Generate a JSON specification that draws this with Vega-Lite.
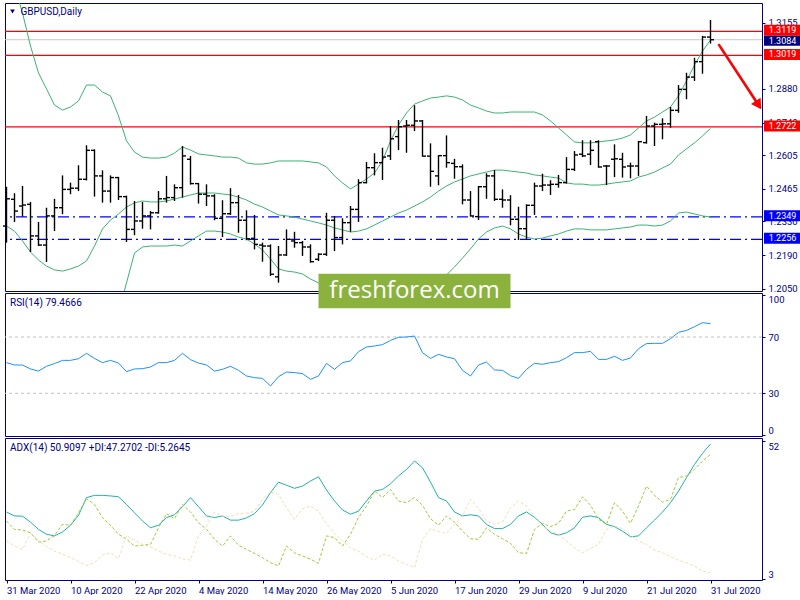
{
"$schema": "https://vega.github.io/schema/vega-lite/v6.json",
"padding": {"left": 2, "top": 2, "right": 0, "bottom": 0},
"background": "white",
"bounds": "flush",
"spacing": 2,
"resolve": {"scale": {"x": "independent", "y": "independent"}},
"config": {
  "view": {"stroke": "#000080", "strokeWidth": 1},
  "axis": {"labelFont": "Roboto", "labelFontSize": 9.5, "labelColor": "#000080", "tickColor": "#000080", "grid": false, "domain": false}
},
"datasets": {
"bars": [
{"d":"2020-03-31","o":1.2311,"h":1.2474,"l":1.2242,"c":1.2424,"bu":1.3431,"bm":1.2311,"bl":1.1191,"rsi":51.8,"adx":26.8,"pdi":23.6,"mdi":16.5},
{"d":"2020-04-01","o":1.2422,"h":1.2447,"l":1.2328,"c":1.2373,"bu":1.3307,"bm":1.2290,"bl":1.1274,"rsi":50.1,"adx":25.4,"pdi":20.6,"mdi":14.7},
{"d":"2020-04-02","o":1.2394,"h":1.2477,"l":1.2350,"c":1.2398,"bu":1.3195,"bm":1.2249,"bl":1.1303,"rsi":50.1,"adx":25.3,"pdi":20.4,"mdi":13.5},
{"d":"2020-04-03","o":1.2401,"h":1.2411,"l":1.2203,"c":1.2270,"bu":1.3058,"bm":1.2203,"bl":1.1348,"rsi":47.3,"adx":23.2,"pdi":19.4,"mdi":19.2},
{"d":"2020-04-06","o":1.2270,"h":1.2328,"l":1.2228,"c":1.2232,"bu":1.2946,"bm":1.2170,"bl":1.1394,"rsi":45.8,"adx":20.6,"pdi":16.1,"mdi":16.8},
{"d":"2020-04-07","o":1.2232,"h":1.2387,"l":1.2162,"c":1.2353,"bu":1.2880,"bm":1.2145,"bl":1.1411,"rsi":49.2,"adx":18.9,"pdi":16.5,"mdi":14.5},
{"d":"2020-04-08","o":1.2353,"h":1.2424,"l":1.2290,"c":1.2387,"bu":1.2813,"bm":1.2129,"bl":1.1444,"rsi":51.1,"adx":18.3,"pdi":18.5,"mdi":12.9},
{"d":"2020-04-09","o":1.2387,"h":1.2521,"l":1.2360,"c":1.2463,"bu":1.2792,"bm":1.2124,"bl":1.1456,"rsi":53.4,"adx":19.7,"pdi":22.4,"mdi":11.8},
{"d":"2020-04-10","o":1.2463,"h":1.2491,"l":1.2443,"c":1.2468,"bu":1.2805,"bm":1.2133,"bl":1.1460,"rsi":53.4,"adx":22.1,"pdi":22.1,"mdi":10.6},
{"d":"2020-04-13","o":1.2468,"h":1.2563,"l":1.2456,"c":1.2505,"bu":1.2830,"bm":1.2145,"bl":1.1460,"rsi":54.6,"adx":25.6,"pdi":26.5,"mdi":9.3},
{"d":"2020-04-14","o":1.2505,"h":1.2646,"l":1.2500,"c":1.2625,"bu":1.2896,"bm":1.2166,"bl":1.1436,"rsi":58.4,"adx":31.9,"pdi":31.5,"mdi":7.8},
{"d":"2020-04-15","o":1.2625,"h":1.2629,"l":1.2433,"c":1.2519,"bu":1.2896,"bm":1.2228,"bl":1.1560,"rsi":54.8,"adx":32.7,"pdi":29.5,"mdi":8.8},
{"d":"2020-04-16","o":1.2519,"h":1.2542,"l":1.2408,"c":1.2456,"bu":1.2867,"bm":1.2299,"bl":1.1730,"rsi":51.8,"adx":32.7,"pdi":24.8,"mdi":11.5},
{"d":"2020-04-17","o":1.2456,"h":1.2521,"l":1.2408,"c":1.2512,"bu":1.2851,"bm":1.2336,"bl":1.1821,"rsi":53.4,"adx":32.5,"pdi":22.1,"mdi":12.3},
{"d":"2020-04-20","o":1.2512,"h":1.2515,"l":1.2419,"c":1.2433,"bu":1.2768,"bm":1.2361,"bl":1.1954,"rsi":51.5,"adx":32.2,"pdi":18.9,"mdi":10.2},
{"d":"2020-04-21","o":1.2433,"h":1.2437,"l":1.2245,"c":1.2297,"bu":1.2664,"bm":1.2390,"bl":1.2075,"rsi":45.4,"adx":29.5,"pdi":17.1,"mdi":18.5},
{"d":"2020-04-22","o":1.2297,"h":1.2415,"l":1.2273,"c":1.2332,"bu":1.2618,"bm":1.2407,"bl":1.2199,"rsi":47.3,"adx":26.5,"pdi":14.7,"mdi":16.8},
{"d":"2020-04-23","o":1.2332,"h":1.2411,"l":1.2300,"c":1.2353,"bu":1.2597,"bm":1.2415,"bl":1.2224,"rsi":47.5,"adx":23.6,"pdi":15.0,"mdi":15.3},
{"d":"2020-04-24","o":1.2353,"h":1.2373,"l":1.2297,"c":1.2366,"bu":1.2593,"bm":1.2411,"bl":1.2228,"rsi":48.7,"adx":21.2,"pdi":15.3,"mdi":14.5},
{"d":"2020-04-27","o":1.2366,"h":1.2456,"l":1.2362,"c":1.2424,"bu":1.2593,"bm":1.2411,"bl":1.2228,"rsi":51.8,"adx":22.1,"pdi":21.2,"mdi":12.9},
{"d":"2020-04-28","o":1.2424,"h":1.2519,"l":1.2408,"c":1.2429,"bu":1.2597,"bm":1.2415,"bl":1.2228,"rsi":51.8,"adx":24.8,"pdi":26.2,"mdi":11.8},
{"d":"2020-04-29","o":1.2429,"h":1.2484,"l":1.2415,"c":1.2470,"bu":1.2614,"bm":1.2423,"bl":1.2232,"rsi":53.4,"adx":25.8,"pdi":24.4,"mdi":11.2},
{"d":"2020-04-30","o":1.2470,"h":1.2643,"l":1.2429,"c":1.2602,"bu":1.2639,"bm":1.2431,"bl":1.2228,"rsi":58.4,"adx":28.7,"pdi":29.5,"mdi":10.2},
{"d":"2020-05-01","o":1.2588,"h":1.2602,"l":1.2483,"c":1.2487,"bu":1.2626,"bm":1.2440,"bl":1.2249,"rsi":53.9,"adx":31.9,"pdi":26.8,"mdi":9.7},
{"d":"2020-05-04","o":1.2487,"h":1.2490,"l":1.2404,"c":1.2443,"bu":1.2610,"bm":1.2448,"bl":1.2270,"rsi":51.5,"adx":28.7,"pdi":23.0,"mdi":18.3},
{"d":"2020-05-05","o":1.2443,"h":1.2484,"l":1.2394,"c":1.2436,"bu":1.2606,"bm":1.2448,"bl":1.2290,"rsi":50.1,"adx":25.4,"pdi":20.6,"mdi":21.8},
{"d":"2020-05-06","o":1.2436,"h":1.2443,"l":1.2335,"c":1.2343,"bu":1.2602,"bm":1.2448,"bl":1.2290,"rsi":45.8,"adx":24.8,"pdi":17.1,"mdi":26.8},
{"d":"2020-05-07","o":1.2343,"h":1.2418,"l":1.2265,"c":1.2362,"bu":1.2597,"bm":1.2444,"bl":1.2286,"rsi":47.0,"adx":25.4,"pdi":14.7,"mdi":25.4},
{"d":"2020-05-08","o":1.2362,"h":1.2468,"l":1.2357,"c":1.2408,"bu":1.2597,"bm":1.2440,"bl":1.2278,"rsi":49.2,"adx":23.9,"pdi":18.3,"mdi":25.1},
{"d":"2020-05-11","o":1.2408,"h":1.2440,"l":1.2283,"c":1.2335,"bu":1.2593,"bm":1.2431,"bl":1.2265,"rsi":46.3,"adx":23.9,"pdi":15.0,"mdi":26.3},
{"d":"2020-05-12","o":1.2335,"h":1.2376,"l":1.2252,"c":1.2258,"bu":1.2573,"bm":1.2419,"bl":1.2257,"rsi":42.3,"adx":24.7,"pdi":13.5,"mdi":26.3},
{"d":"2020-05-13","o":1.2260,"h":1.2357,"l":1.2214,"c":1.2235,"bu":1.2568,"bm":1.2402,"bl":1.2236,"rsi":41.1,"adx":26.2,"pdi":12.1,"mdi":27.1},
{"d":"2020-05-14","o":1.2232,"h":1.2242,"l":1.2163,"c":1.2228,"bu":1.2568,"bm":1.2390,"bl":1.2212,"rsi":40.6,"adx":29.3,"pdi":10.6,"mdi":31.3},
{"d":"2020-05-15","o":1.2228,"h":1.2235,"l":1.2104,"c":1.2111,"bu":1.2573,"bm":1.2373,"bl":1.2174,"rsi":35.2,"adx":33.7,"pdi":8.8,"mdi":33.9},
{"d":"2020-05-18","o":1.2100,"h":1.2228,"l":1.2076,"c":1.2191,"bu":1.2581,"bm":1.2357,"bl":1.2133,"rsi":41.8,"adx":37.4,"pdi":7.6,"mdi":33.1},
{"d":"2020-05-19","o":1.2191,"h":1.2297,"l":1.2187,"c":1.2256,"bu":1.2581,"bm":1.2353,"bl":1.2124,"rsi":45.1,"adx":36.3,"pdi":14.7,"mdi":28.3},
{"d":"2020-05-20","o":1.2249,"h":1.2287,"l":1.2221,"c":1.2242,"bu":1.2581,"bm":1.2348,"bl":1.2120,"rsi":44.7,"adx":35.2,"pdi":12.3,"mdi":24.2},
{"d":"2020-05-21","o":1.2242,"h":1.2249,"l":1.2187,"c":1.2224,"bu":1.2581,"bm":1.2340,"bl":1.2112,"rsi":44.0,"adx":36.0,"pdi":11.2,"mdi":28.0},
{"d":"2020-05-22","o":1.2224,"h":1.2235,"l":1.2159,"c":1.2163,"bu":1.2577,"bm":1.2332,"bl":1.2091,"rsi":39.9,"adx":37.8,"pdi":10.0,"mdi":28.9},
{"d":"2020-05-25","o":1.2173,"h":1.2198,"l":1.2166,"c":1.2194,"bu":1.2573,"bm":1.2324,"bl":1.2075,"rsi":42.3,"adx":39.3,"pdi":8.6,"mdi":27.1},
{"d":"2020-05-26","o":1.2194,"h":1.2366,"l":1.2187,"c":1.2335,"bu":1.2556,"bm":1.2315,"bl":1.2075,"rsi":51.3,"adx":34.6,"pdi":18.3,"mdi":22.6},
{"d":"2020-05-27","o":1.2335,"h":1.2353,"l":1.2207,"c":1.2263,"bu":1.2519,"bm":1.2303,"bl":1.2087,"rsi":47.0,"adx":30.7,"pdi":17.7,"mdi":19.2},
{"d":"2020-05-28","o":1.2263,"h":1.2343,"l":1.2235,"c":1.2325,"bu":1.2490,"bm":1.2295,"bl":1.2100,"rsi":51.8,"adx":27.5,"pdi":14.7,"mdi":16.5},
{"d":"2020-05-29","o":1.2325,"h":1.2394,"l":1.2287,"c":1.2380,"bu":1.2465,"bm":1.2286,"bl":1.2108,"rsi":53.0,"adx":26.0,"pdi":18.9,"mdi":14.1},
{"d":"2020-06-01","o":1.2380,"h":1.2505,"l":1.2328,"c":1.2491,"bu":1.2485,"bm":1.2290,"bl":1.2095,"rsi":59.6,"adx":27.1,"pdi":24.8,"mdi":12.9},
{"d":"2020-06-02","o":1.2491,"h":1.2577,"l":1.2488,"c":1.2553,"bu":1.2506,"bm":1.2299,"bl":1.2091,"rsi":62.9,"adx":30.7,"pdi":28.9,"mdi":10.9},
{"d":"2020-06-03","o":1.2553,"h":1.2613,"l":1.2521,"c":1.2574,"bu":1.2531,"bm":1.2315,"bl":1.2100,"rsi":63.6,"adx":34.2,"pdi":34.2,"mdi":9.7},
{"d":"2020-06-04","o":1.2574,"h":1.2636,"l":1.2502,"c":1.2597,"bu":1.2581,"bm":1.2332,"bl":1.2083,"rsi":64.6,"adx":34.8,"pdi":31.9,"mdi":11.8},
{"d":"2020-06-05","o":1.2602,"h":1.2726,"l":1.2585,"c":1.2673,"bu":1.2664,"bm":1.2348,"bl":1.2033,"rsi":67.6,"adx":36.8,"pdi":34.8,"mdi":11.2},
{"d":"2020-06-08","o":1.2682,"h":1.2751,"l":1.2626,"c":1.2723,"bu":1.2730,"bm":1.2365,"bl":1.2000,"rsi":69.8,"adx":39.6,"pdi":30.7,"mdi":9.4},
{"d":"2020-06-09","o":1.2726,"h":1.2751,"l":1.2615,"c":1.2729,"bu":1.2780,"bm":1.2377,"bl":1.1975,"rsi":70.0,"adx":41.9,"pdi":30.1,"mdi":8.2},
{"d":"2020-06-10","o":1.2729,"h":1.2812,"l":1.2705,"c":1.2747,"bu":1.2817,"bm":1.2394,"bl":1.1971,"rsi":70.7,"adx":44.9,"pdi":31.9,"mdi":7.0},
{"d":"2020-06-11","o":1.2747,"h":1.2751,"l":1.2599,"c":1.2601,"bu":1.2830,"bm":1.2411,"bl":1.1992,"rsi":58.9,"adx":42.5,"pdi":29.2,"mdi":17.1},
{"d":"2020-06-12","o":1.2601,"h":1.2654,"l":1.2474,"c":1.2538,"bu":1.2842,"bm":1.2431,"bl":1.2021,"rsi":54.8,"adx":37.4,"pdi":24.4,"mdi":20.9},
{"d":"2020-06-15","o":1.2519,"h":1.2605,"l":1.2480,"c":1.2603,"bu":1.2846,"bm":1.2456,"bl":1.2066,"rsi":57.7,"adx":31.9,"pdi":22.1,"mdi":19.8},
{"d":"2020-06-16","o":1.2603,"h":1.2687,"l":1.2553,"c":1.2574,"bu":1.2851,"bm":1.2477,"bl":1.2108,"rsi":55.8,"adx":30.7,"pdi":25.4,"mdi":19.2},
{"d":"2020-06-17","o":1.2571,"h":1.2590,"l":1.2507,"c":1.2557,"bu":1.2846,"bm":1.2494,"bl":1.2141,"rsi":54.6,"adx":26.8,"pdi":23.2,"mdi":22.4},
{"d":"2020-06-18","o":1.2557,"h":1.2567,"l":1.2401,"c":1.2419,"bu":1.2834,"bm":1.2506,"bl":1.2178,"rsi":46.3,"adx":25.4,"pdi":20.0,"mdi":25.4},
{"d":"2020-06-19","o":1.2419,"h":1.2456,"l":1.2350,"c":1.2353,"bu":1.2813,"bm":1.2519,"bl":1.2216,"rsi":42.3,"adx":25.8,"pdi":17.3,"mdi":31.3},
{"d":"2020-06-22","o":1.2350,"h":1.2477,"l":1.2336,"c":1.2474,"bu":1.2801,"bm":1.2527,"bl":1.2257,"rsi":50.1,"adx":25.4,"pdi":17.1,"mdi":28.0},
{"d":"2020-06-23","o":1.2474,"h":1.2530,"l":1.2424,"c":1.2519,"bu":1.2788,"bm":1.2535,"bl":1.2286,"rsi":52.2,"adx":22.4,"pdi":21.2,"mdi":23.6},
{"d":"2020-06-24","o":1.2519,"h":1.2543,"l":1.2415,"c":1.2422,"bu":1.2780,"bm":1.2543,"bl":1.2303,"rsi":46.6,"adx":20.9,"pdi":18.9,"mdi":22.4},
{"d":"2020-06-25","o":1.2422,"h":1.2463,"l":1.2387,"c":1.2419,"bu":1.2780,"bm":1.2543,"bl":1.2311,"rsi":46.3,"adx":20.9,"pdi":17.3,"mdi":23.2},
{"d":"2020-06-26","o":1.2419,"h":1.2439,"l":1.2314,"c":1.2339,"bu":1.2784,"bm":1.2539,"bl":1.2299,"rsi":42.5,"adx":22.4,"pdi":15.7,"mdi":28.3},
{"d":"2020-06-29","o":1.2339,"h":1.2391,"l":1.2253,"c":1.2300,"bu":1.2784,"bm":1.2535,"bl":1.2278,"rsi":40.6,"adx":25.4,"pdi":12.3,"mdi":30.7},
{"d":"2020-06-30","o":1.2300,"h":1.2401,"l":1.2256,"c":1.2397,"bu":1.2784,"bm":1.2531,"bl":1.2265,"rsi":47.0,"adx":26.8,"pdi":12.1,"mdi":28.9},
{"d":"2020-07-01","o":1.2397,"h":1.2491,"l":1.2357,"c":1.2477,"bu":1.2784,"bm":1.2523,"bl":1.2257,"rsi":51.3,"adx":24.9,"pdi":20.6,"mdi":25.4},
{"d":"2020-07-02","o":1.2477,"h":1.2528,"l":1.2456,"c":1.2481,"bu":1.2772,"bm":1.2519,"bl":1.2261,"rsi":50.6,"adx":22.4,"pdi":22.8,"mdi":21.8},
{"d":"2020-07-03","o":1.2481,"h":1.2501,"l":1.2440,"c":1.2484,"bu":1.2747,"bm":1.2514,"bl":1.2270,"rsi":51.8,"adx":19.4,"pdi":21.6,"mdi":20.0},
{"d":"2020-07-06","o":1.2484,"h":1.2523,"l":1.2470,"c":1.2491,"bu":1.2718,"bm":1.2510,"bl":1.2278,"rsi":52.5,"adx":18.6,"pdi":22.8,"mdi":18.9},
{"d":"2020-07-07","o":1.2491,"h":1.2597,"l":1.2487,"c":1.2546,"bu":1.2689,"bm":1.2490,"bl":1.2290,"rsi":55.3,"adx":19.4,"pdi":27.1,"mdi":16.5},
{"d":"2020-07-08","o":1.2546,"h":1.2622,"l":1.2539,"c":1.2606,"bu":1.2660,"bm":1.2485,"bl":1.2299,"rsi":58.9,"adx":21.2,"pdi":27.7,"mdi":14.1},
{"d":"2020-07-09","o":1.2609,"h":1.2667,"l":1.2597,"c":1.2602,"bu":1.2656,"bm":1.2485,"bl":1.2299,"rsi":58.9,"adx":24.9,"pdi":32.2,"mdi":12.3},
{"d":"2020-07-10","o":1.2609,"h":1.2667,"l":1.2564,"c":1.2625,"bu":1.2656,"bm":1.2481,"bl":1.2295,"rsi":59.8,"adx":25.4,"pdi":29.2,"mdi":13.8},
{"d":"2020-07-13","o":1.2661,"h":1.2667,"l":1.2553,"c":1.2556,"bu":1.2660,"bm":1.2481,"bl":1.2295,"rsi":54.1,"adx":24.8,"pdi":24.2,"mdi":15.3},
{"d":"2020-07-14","o":1.2560,"h":1.2564,"l":1.2481,"c":1.2560,"bu":1.2664,"bm":1.2485,"bl":1.2295,"rsi":54.1,"adx":22.4,"pdi":22.4,"mdi":20.6},
{"d":"2020-07-15","o":1.2588,"h":1.2650,"l":1.2514,"c":1.2590,"bu":1.2668,"bm":1.2490,"bl":1.2299,"rsi":56.3,"adx":21.6,"pdi":30.1,"mdi":21.8},
{"d":"2020-07-16","o":1.2588,"h":1.2615,"l":1.2512,"c":1.2556,"bu":1.2676,"bm":1.2494,"bl":1.2303,"rsi":53.4,"adx":20.0,"pdi":27.1,"mdi":20.9},
{"d":"2020-07-17","o":1.2560,"h":1.2574,"l":1.2509,"c":1.2560,"bu":1.2689,"bm":1.2498,"bl":1.2307,"rsi":55.1,"adx":18.0,"pdi":22.8,"mdi":18.5},
{"d":"2020-07-20","o":1.2560,"h":1.2664,"l":1.2519,"c":1.2661,"bu":1.2718,"bm":1.2514,"bl":1.2315,"rsi":61.7,"adx":18.3,"pdi":28.9,"mdi":16.5},
{"d":"2020-07-21","o":1.2657,"h":1.2768,"l":1.2653,"c":1.2726,"bu":1.2747,"bm":1.2523,"bl":1.2315,"rsi":65.3,"adx":21.2,"pdi":36.0,"mdi":15.3},
{"d":"2020-07-22","o":1.2726,"h":1.2740,"l":1.2643,"c":1.2733,"bu":1.2763,"bm":1.2535,"bl":1.2311,"rsi":65.5,"adx":23.9,"pdi":32.7,"mdi":13.3},
{"d":"2020-07-23","o":1.2733,"h":1.2758,"l":1.2671,"c":1.2735,"bu":1.2784,"bm":1.2552,"bl":1.2315,"rsi":65.5,"adx":26.8,"pdi":30.3,"mdi":12.3},
{"d":"2020-07-24","o":1.2735,"h":1.2805,"l":1.2719,"c":1.2791,"bu":1.2805,"bm":1.2568,"bl":1.2332,"rsi":68.8,"adx":30.1,"pdi":31.3,"mdi":10.9},
{"d":"2020-07-27","o":1.2791,"h":1.2896,"l":1.2781,"c":1.2878,"bu":1.2851,"bm":1.2606,"bl":1.2365,"rsi":73.3,"adx":34.2,"pdi":39.0,"mdi":9.7},
{"d":"2020-07-28","o":1.2878,"h":1.2947,"l":1.2837,"c":1.2929,"bu":1.2913,"bm":1.2631,"bl":1.2369,"rsi":74.7,"adx":39.0,"pdi":39.6,"mdi":8.8},
{"d":"2020-07-29","o":1.2929,"h":1.3009,"l":1.2913,"c":1.2993,"bu":1.2979,"bm":1.2656,"bl":1.2361,"rsi":77.3,"adx":43.7,"pdi":41.9,"mdi":7.6},
{"d":"2020-07-30","o":1.2993,"h":1.3100,"l":1.2943,"c":1.3095,"bu":1.3037,"bm":1.2685,"bl":1.2353,"rsi":80.2,"adx":47.6,"pdi":44.9,"mdi":5.8},
{"d":"2020-07-31","o":1.3095,"h":1.3166,"l":1.3068,"c":1.3084,"bu":1.3083,"bm":1.2716,"bl":1.2348,"rsi":79.4666,"adx":50.9097,"pdi":47.2702,"mdi":5.2645}
],
"levels": [
{"p":1.3119,"k":"res"},{"p":1.3084,"k":"bid"},{"p":1.3019,"k":"res"},{"p":1.2722,"k":"res"},{"p":1.2349,"k":"sup"},{"p":1.2256,"k":"sup"}
],
"arrow": [{"d":"2020-08-03","p":1.3066},{"d":"2020-08-10","p":1.2813}],
"rsiLevels": [{"v":70},{"v":30}],
"mark": [{"name":"freshforex.com"}]
},
"vconcat": [
{
 "width": 757, "height": 288,
 "layer": [
  {"data": {"name": "levels"}, "transform": [{"filter": "datum.k == 'bid'"}],
   "mark": {"type": "rule", "color": "#c8c8c8", "strokeWidth": 1},
   "encoding": {"y": {"field": "p", "type": "quantitative", "title": null,
     "scale": {"domain": [1.20414, 1.32364], "zero": false, "nice": false},
     "axis": {"orient": "right", "title": null, "values": [1.205, 1.219, 1.233, 1.2465, 1.2605, 1.274, 1.288, 1.3155], "format": ".4f", "tickSize": 3, "labelPadding": 3}}}},
  {"data": {"name": "levels"}, "transform": [{"filter": "datum.k == 'res'"}],
   "mark": {"type": "rule", "color": "#ff0000", "strokeWidth": 1.2},
   "encoding": {"y": {"field": "p", "type": "quantitative", "title": null}}},
  {"data": {"name": "levels"}, "transform": [{"filter": "datum.k == 'sup'"}],
   "mark": {"type": "rule", "color": "#0000ff", "strokeWidth": 1.2, "strokeDash": [11, 4, 2, 4]},
   "encoding": {"y": {"field": "p", "type": "quantitative", "title": null}}},
  {"data": {"name": "bars"},
   "mark": {"type": "line", "color": "#3cb371", "strokeWidth": 1, "clip": true},
   "encoding": {
     "x": {"field": "d", "type": "ordinal", "axis": null,
       "scale": {"type": "point", "padding": 0.3125, "align": 0.3, "domain": ["2020-03-31","2020-04-01","2020-04-02","2020-04-03","2020-04-06","2020-04-07","2020-04-08","2020-04-09","2020-04-10","2020-04-13","2020-04-14","2020-04-15","2020-04-16","2020-04-17","2020-04-20","2020-04-21","2020-04-22","2020-04-23","2020-04-24","2020-04-27","2020-04-28","2020-04-29","2020-04-30","2020-05-01","2020-05-04","2020-05-05","2020-05-06","2020-05-07","2020-05-08","2020-05-11","2020-05-12","2020-05-13","2020-05-14","2020-05-15","2020-05-18","2020-05-19","2020-05-20","2020-05-21","2020-05-22","2020-05-25","2020-05-26","2020-05-27","2020-05-28","2020-05-29","2020-06-01","2020-06-02","2020-06-03","2020-06-04","2020-06-05","2020-06-08","2020-06-09","2020-06-10","2020-06-11","2020-06-12","2020-06-15","2020-06-16","2020-06-17","2020-06-18","2020-06-19","2020-06-22","2020-06-23","2020-06-24","2020-06-25","2020-06-26","2020-06-29","2020-06-30","2020-07-01","2020-07-02","2020-07-03","2020-07-06","2020-07-07","2020-07-08","2020-07-09","2020-07-10","2020-07-13","2020-07-14","2020-07-15","2020-07-16","2020-07-17","2020-07-20","2020-07-21","2020-07-22","2020-07-23","2020-07-24","2020-07-27","2020-07-28","2020-07-29","2020-07-30","2020-07-31","2020-08-03","2020-08-04","2020-08-05","2020-08-06","2020-08-07","2020-08-10"]}},
     "y": {"field": "bu", "type": "quantitative", "title": null},
     "order": {"value": null}}},
  {"data": {"name": "bars"},
   "mark": {"type": "line", "color": "#3cb371", "strokeWidth": 1, "clip": true},
   "encoding": {"x": {"field": "d", "type": "ordinal", "axis": null}, "y": {"field": "bm", "type": "quantitative", "title": null}, "order": {"value": null}}},
  {"data": {"name": "bars"},
   "mark": {"type": "line", "color": "#3cb371", "strokeWidth": 1, "clip": true},
   "encoding": {"x": {"field": "d", "type": "ordinal", "axis": null}, "y": {"field": "bl", "type": "quantitative", "title": null}, "order": {"value": null}}},
  {"data": {"name": "bars"},
   "mark": {"type": "rule", "color": "#000000", "strokeWidth": 1.4},
   "encoding": {"x": {"field": "d", "type": "ordinal", "axis": null}, "y": {"field": "l", "type": "quantitative", "title": null}, "y2": {"field": "h"}}},
  {"data": {"name": "bars"},
   "mark": {"type": "tick", "color": "#000000", "size": 3.5, "thickness": 1.4, "xOffset": -1.75, "opacity": 1},
   "encoding": {"x": {"field": "d", "type": "ordinal", "axis": null}, "y": {"field": "o", "type": "quantitative", "title": null}}},
  {"data": {"name": "bars"},
   "mark": {"type": "tick", "color": "#000000", "size": 3.5, "thickness": 1.4, "xOffset": 1.75, "opacity": 1},
   "encoding": {"x": {"field": "d", "type": "ordinal", "axis": null}, "y": {"field": "c", "type": "quantitative", "title": null}}},
  {"data": {"name": "arrow"},
   "mark": {"type": "line", "color": "#808080", "opacity": 0.35, "strokeWidth": 3, "xOffset": 2, "yOffset": 3},
   "encoding": {"x": {"field": "d", "type": "ordinal", "axis": null}, "y": {"field": "p", "type": "quantitative", "title": null}}},
  {"data": {"name": "arrow"},
   "mark": {"type": "line", "color": "#ff0000", "strokeWidth": 2.5},
   "encoding": {"x": {"field": "d", "type": "ordinal", "axis": null}, "y": {"field": "p", "type": "quantitative", "title": null}}},
  {"data": {"name": "arrow"}, "transform": [{"filter": "datum.d == '2020-08-10'"}],
   "mark": {"type": "point", "shape": "triangle-down", "angle": 326.7, "size": 130, "filled": true, "color": "#ff0000", "opacity": 1},
   "encoding": {"x": {"field": "d", "type": "ordinal", "axis": null}, "y": {"field": "p", "type": "quantitative", "title": null}}},
  {"data": {"name": "levels"}, "transform": [{"filter": "datum.k != 'bid'"}],
   "mark": {"type": "rect", "xOffset": 2, "x2Offset": 38.5, "yOffset": -6.5, "y2Offset": 4.5},
   "encoding": {"x": {"value": "width"}, "x2": {"value": "width"},
     "y": {"field": "p", "type": "quantitative", "title": null}, "y2": {"field": "p"},
     "color": {"field": "k", "type": "nominal", "legend": null, "scale": {"domain": ["res", "bid", "sup"], "range": ["#ff0000", "#000080", "#0000ff"]}}}},
  {"data": {"name": "levels"}, "transform": [{"filter": "datum.k == 'bid'"}],
   "mark": {"type": "rect", "color": "#000080", "xOffset": 2, "x2Offset": 38.5, "yOffset": -4, "y2Offset": 6},
   "encoding": {"x": {"value": "width"}, "x2": {"value": "width"},
     "y": {"field": "p", "type": "quantitative", "title": null}, "y2": {"field": "p"}}},
  {"data": {"name": "levels"}, "transform": [{"filter": "datum.k != 'bid'"}],
   "mark": {"type": "text", "xOffset": 20.5, "yOffset": -1, "align": "center", "baseline": "middle", "color": "#ffffff", "font": "Roboto", "fontSize": 9},
   "encoding": {"x": {"value": "width"}, "y": {"field": "p", "type": "quantitative", "title": null},
     "text": {"field": "p", "type": "quantitative", "format": ".4f"}}},
  {"data": {"name": "levels"}, "transform": [{"filter": "datum.k == 'bid'"}],
   "mark": {"type": "text", "xOffset": 20.5, "yOffset": 1.5, "align": "center", "baseline": "middle", "color": "#ffffff", "font": "Roboto", "fontSize": 9},
   "encoding": {"x": {"value": "width"}, "y": {"field": "p", "type": "quantitative", "title": null},
     "text": {"field": "p", "type": "quantitative", "format": ".4f"}}},
  {"data": {"values": [{}]},
   "mark": {"type": "text", "align": "left", "baseline": "middle", "dx": 14, "font": "Roboto", "fontSize": 10, "color": "#000080", "text": "GBPUSD,Daily"},
   "encoding": {"x": {"datum": "2020-03-31", "type": "ordinal", "axis": null}, "y": {"datum": 1.3199, "type": "quantitative", "title": null}}},
  {"data": {"values": [{}]},
   "mark": {"type": "point", "shape": "triangle-down", "size": 22, "filled": true, "color": "#000080", "opacity": 1, "xOffset": 6},
   "encoding": {"x": {"datum": "2020-03-31", "type": "ordinal", "axis": null}, "y": {"datum": 1.3201, "type": "quantitative", "title": null}}}
 ]
},
{
 "width": 757, "height": 143,
 "layer": [
  {"data": {"name": "rsiLevels"},
   "mark": {"type": "rule", "color": "#c0c0c0", "strokeWidth": 1, "strokeDash": [3, 3]},
   "encoding": {"y": {"field": "v", "type": "quantitative", "title": null,
     "scale": {"domain": [-0.36, 101.28], "zero": false, "nice": false},
     "axis": {"orient": "right", "title": null, "values": [0, 30, 70, 100], "labelFlush": 3, "tickSize": 3, "labelPadding": 3}}}},
  {"data": {"name": "bars"},
   "mark": {"type": "line", "color": "#1e90ff", "strokeWidth": 1},
   "encoding": {
     "x": {"field": "d", "type": "ordinal", "axis": null,
       "scale": {"type": "point", "padding": 0.3125, "align": 0.3, "domain": ["2020-03-31","2020-04-01","2020-04-02","2020-04-03","2020-04-06","2020-04-07","2020-04-08","2020-04-09","2020-04-10","2020-04-13","2020-04-14","2020-04-15","2020-04-16","2020-04-17","2020-04-20","2020-04-21","2020-04-22","2020-04-23","2020-04-24","2020-04-27","2020-04-28","2020-04-29","2020-04-30","2020-05-01","2020-05-04","2020-05-05","2020-05-06","2020-05-07","2020-05-08","2020-05-11","2020-05-12","2020-05-13","2020-05-14","2020-05-15","2020-05-18","2020-05-19","2020-05-20","2020-05-21","2020-05-22","2020-05-25","2020-05-26","2020-05-27","2020-05-28","2020-05-29","2020-06-01","2020-06-02","2020-06-03","2020-06-04","2020-06-05","2020-06-08","2020-06-09","2020-06-10","2020-06-11","2020-06-12","2020-06-15","2020-06-16","2020-06-17","2020-06-18","2020-06-19","2020-06-22","2020-06-23","2020-06-24","2020-06-25","2020-06-26","2020-06-29","2020-06-30","2020-07-01","2020-07-02","2020-07-03","2020-07-06","2020-07-07","2020-07-08","2020-07-09","2020-07-10","2020-07-13","2020-07-14","2020-07-15","2020-07-16","2020-07-17","2020-07-20","2020-07-21","2020-07-22","2020-07-23","2020-07-24","2020-07-27","2020-07-28","2020-07-29","2020-07-30","2020-07-31","2020-08-03","2020-08-04","2020-08-05","2020-08-06","2020-08-07","2020-08-10"]}},
     "y": {"field": "rsi", "type": "quantitative", "title": null},
     "order": {"value": null}}},
  {"data": {"values": [{}]},
   "mark": {"type": "text", "align": "left", "baseline": "middle", "dx": 3.5, "font": "Roboto", "fontSize": 10, "color": "#000080", "text": "RSI(14) 79.4666"},
   "encoding": {"x": {"datum": "2020-03-31", "type": "ordinal", "axis": null}, "y": {"datum": 94.2, "type": "quantitative", "title": null}}},
  {"data": {"values": [{"d": "2020-05-25"}, {"d": "2020-06-26"}]},
   "mark": {"type": "line", "color": "#8cb23e", "strokeWidth": 34.6, "strokeCap": "butt", "clip": false},
   "encoding": {"x": {"field": "d", "type": "ordinal", "axis": null}, "y": {"datum": 102.7, "type": "quantitative", "title": null}}},
  {"data": {"name": "mark"},
   "mark": {"type": "text", "align": "center", "baseline": "alphabetic", "font": "Open Sans", "fontSize": 24, "color": "#ffffff", "clip": false},
   "encoding": {"x": {"datum": "2020-06-10", "type": "ordinal", "axis": null}, "y": {"datum": 97.7, "type": "quantitative", "title": null}, "text": {"field": "name"}}}
 ]
},
{
 "width": 757, "height": 142,
 "layer": [
  {"data": {"name": "bars"},
   "mark": {"type": "line", "color": "#20b2aa", "strokeWidth": 1},
   "encoding": {
     "x": {"field": "d", "type": "ordinal", "title": null,
       "scale": {"type": "point", "padding": 0.3125, "align": 0.3, "domain": ["2020-03-31","2020-04-01","2020-04-02","2020-04-03","2020-04-06","2020-04-07","2020-04-08","2020-04-09","2020-04-10","2020-04-13","2020-04-14","2020-04-15","2020-04-16","2020-04-17","2020-04-20","2020-04-21","2020-04-22","2020-04-23","2020-04-24","2020-04-27","2020-04-28","2020-04-29","2020-04-30","2020-05-01","2020-05-04","2020-05-05","2020-05-06","2020-05-07","2020-05-08","2020-05-11","2020-05-12","2020-05-13","2020-05-14","2020-05-15","2020-05-18","2020-05-19","2020-05-20","2020-05-21","2020-05-22","2020-05-25","2020-05-26","2020-05-27","2020-05-28","2020-05-29","2020-06-01","2020-06-02","2020-06-03","2020-06-04","2020-06-05","2020-06-08","2020-06-09","2020-06-10","2020-06-11","2020-06-12","2020-06-15","2020-06-16","2020-06-17","2020-06-18","2020-06-19","2020-06-22","2020-06-23","2020-06-24","2020-06-25","2020-06-26","2020-06-29","2020-06-30","2020-07-01","2020-07-02","2020-07-03","2020-07-06","2020-07-07","2020-07-08","2020-07-09","2020-07-10","2020-07-13","2020-07-14","2020-07-15","2020-07-16","2020-07-17","2020-07-20","2020-07-21","2020-07-22","2020-07-23","2020-07-24","2020-07-27","2020-07-28","2020-07-29","2020-07-30","2020-07-31","2020-08-03","2020-08-04","2020-08-05","2020-08-06","2020-08-07","2020-08-10"]},
       "axis": {"orient": "bottom", "title": null, "values": ["2020-03-31","2020-04-10","2020-04-22","2020-05-04","2020-05-14","2020-05-26","2020-06-05","2020-06-17","2020-06-29","2020-07-09","2020-07-21","2020-07-31"], "labelExpr": "utcFormat(toDate(datum.value), '%-d %b %Y')", "labelAlign": "left", "labelAngle": 0, "labelBaseline": "top", "labelPadding": 2, "tickSize": 3, "labelOverlap": false}},
     "y": {"field": "adx", "type": "quantitative", "title": null,
       "scale": {"domain": [2.645, 53.07], "zero": false, "nice": false},
       "axis": {"orient": "right", "title": null, "values": [3, 52], "labelFlush": 5, "tickSize": 3, "labelPadding": 3}},
     "order": {"value": null}}},
  {"data": {"name": "bars"},
   "mark": {"type": "line", "color": "#9acd32", "strokeWidth": 1, "strokeDash": [3, 2]},
   "encoding": {"x": {"field": "d", "type": "ordinal", "title": null}, "y": {"field": "pdi", "type": "quantitative", "title": null}, "order": {"value": null}}},
  {"data": {"name": "bars"},
   "mark": {"type": "line", "color": "#f5deb3", "strokeWidth": 1, "strokeDash": [3, 2]},
   "encoding": {"x": {"field": "d", "type": "ordinal", "title": null}, "y": {"field": "mdi", "type": "quantitative", "title": null}, "order": {"value": null}}},
  {"data": {"values": [{}]},
   "mark": {"type": "text", "align": "left", "baseline": "middle", "dx": 3.5, "font": "Roboto", "fontSize": 10, "color": "#000080", "text": "ADX(14) 50.9097 +DI:47.2702 -DI:5.2645"},
   "encoding": {"x": {"datum": "2020-03-31", "type": "ordinal", "title": null}, "y": {"datum": 49.5, "type": "quantitative", "title": null}}}
 ]
}
]
}
